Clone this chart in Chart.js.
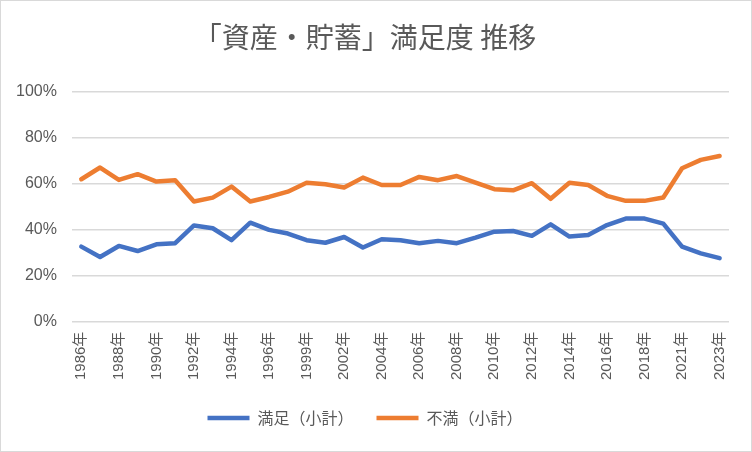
<!DOCTYPE html>
<html>
<head>
<meta charset="utf-8">
<script src="https://cdn.jsdelivr.net/npm/chart.js@4"></script>
<style>
  body { margin: 0; background: #fff; }
  #wrap { width: 752px; height: 452px; box-sizing: border-box; border: 1px solid #d9d9d9; }
  canvas { display: block; }
</style>
</head>
<body>
<div id="wrap"><canvas id="chart" width="750" height="450"></canvas></div>
<script>
// 調査年（2020年は調査なし）
const years = ['1986年', '1987年', '1988年', '1989年', '1990年', '1991年', '1992年', '1993年', '1994年', '1995年',
  '1996年', '1997年', '1999年', '2001年', '2002年', '2003年', '2004年', '2005年', '2006年', '2007年',
  '2008年', '2009年', '2010年', '2011年', '2012年', '2013年', '2014年', '2015年', '2016年', '2017年',
  '2018年', '2019年', '2021年', '2022年', '2023年'];

// 満足（小計） %
const satisfied = [32.6, 28.1, 32.9, 30.7, 33.6, 34.1, 41.8, 40.6, 35.4, 43.0,
  39.9, 38.3, 35.4, 34.3, 36.8, 32.2, 35.8, 35.4, 34.1, 35.1,
  34.1, 36.5, 39.1, 39.4, 37.3, 42.3, 37.0, 37.7, 42.0, 44.8,
  44.8, 42.6, 32.6, 29.7, 27.6];

// 不満（小計） %
const dissatisfied = [61.9, 67.0, 61.6, 64.1, 60.9, 61.5, 52.2, 53.9, 58.7, 52.2,
  54.2, 56.5, 60.4, 59.7, 58.3, 62.6, 59.4, 59.4, 62.9, 61.5,
  63.3, 60.4, 57.6, 57.1, 60.2, 53.4, 60.4, 59.4, 54.7, 52.5,
  52.5, 54.0, 66.7, 70.3, 72.0];

const yTicks = [0, 20, 40, 60, 80, 100];

const textColor = '#595959';
const gridColor = '#d9d9d9';

new Chart(document.getElementById('chart').getContext('2d'), {
  type: 'line',
  data: {
    labels: years,
    datasets: [{
      label: '満足（小計）',
      data: satisfied,
      borderColor: '#4472C4',
      backgroundColor: '#4472C4',
      borderWidth: 4.5,
      pointRadius: 0,
      tension: 0,
      borderCapStyle: 'round',
      borderJoinStyle: 'round'
    }, {
      label: '不満（小計）',
      data: dissatisfied,
      borderColor: '#ED7D31',
      backgroundColor: '#ED7D31',
      borderWidth: 4.5,
      pointRadius: 0,
      tension: 0,
      borderCapStyle: 'round',
      borderJoinStyle: 'round'
    }]
  },
  options: {
    responsive: false,
    animation: false,
    layout: {
      padding: { left: 0, right: 22, top: 12, bottom: 15 }
    },
    scales: {
      x: {
        offset: true,
        grid: { display: false },
        border: { display: false },
        ticks: {
          color: textColor,
          font: { family: "'Liberation Sans', 'Noto Sans CJK JP'", size: 15 },
          autoSkip: false,
          minRotation: 90,
          maxRotation: 90,
          padding: 2,
          callback: function (value, index) {
            return index % 2 === 0 ? years[index] : '';
          }
        },
        afterFit: function (axis) {
          axis.height += 5;  // 凡例との間隔
        }
      },
      y: {
        min: 0,
        max: 100,
        afterBuildTicks: function (axis) {
          axis.ticks = yTicks.map(function (v) { return { value: v }; });
        },
        grid: { color: gridColor, lineWidth: 1.5, drawTicks: false },
        border: { display: false },
        ticks: {
          color: textColor,
          font: { family: "'Liberation Sans', 'Noto Sans CJK JP'", size: 16 },
          padding: 15,
          callback: function (value) { return value + '%'; }
        }
      }
    },
    plugins: {
      title: {
        display: true,
        text: '「資産・貯蓄」満足度 推移',
        color: textColor,
        font: { family: "'Noto Sans CJK JP'", size: 28, weight: 'normal' },
        padding: { top: 8, bottom: 37 }
      },
      legend: {
        position: 'bottom',
        labels: {
          color: textColor,
          font: { family: "'Noto Sans CJK JP'", size: 16 },
          usePointStyle: true,
          pointStyle: 'line',
          pointStyleWidth: 42,
          padding: 23
        }
      },
      tooltip: { enabled: false }
    }
  }
});
</script>
</body>
</html>
